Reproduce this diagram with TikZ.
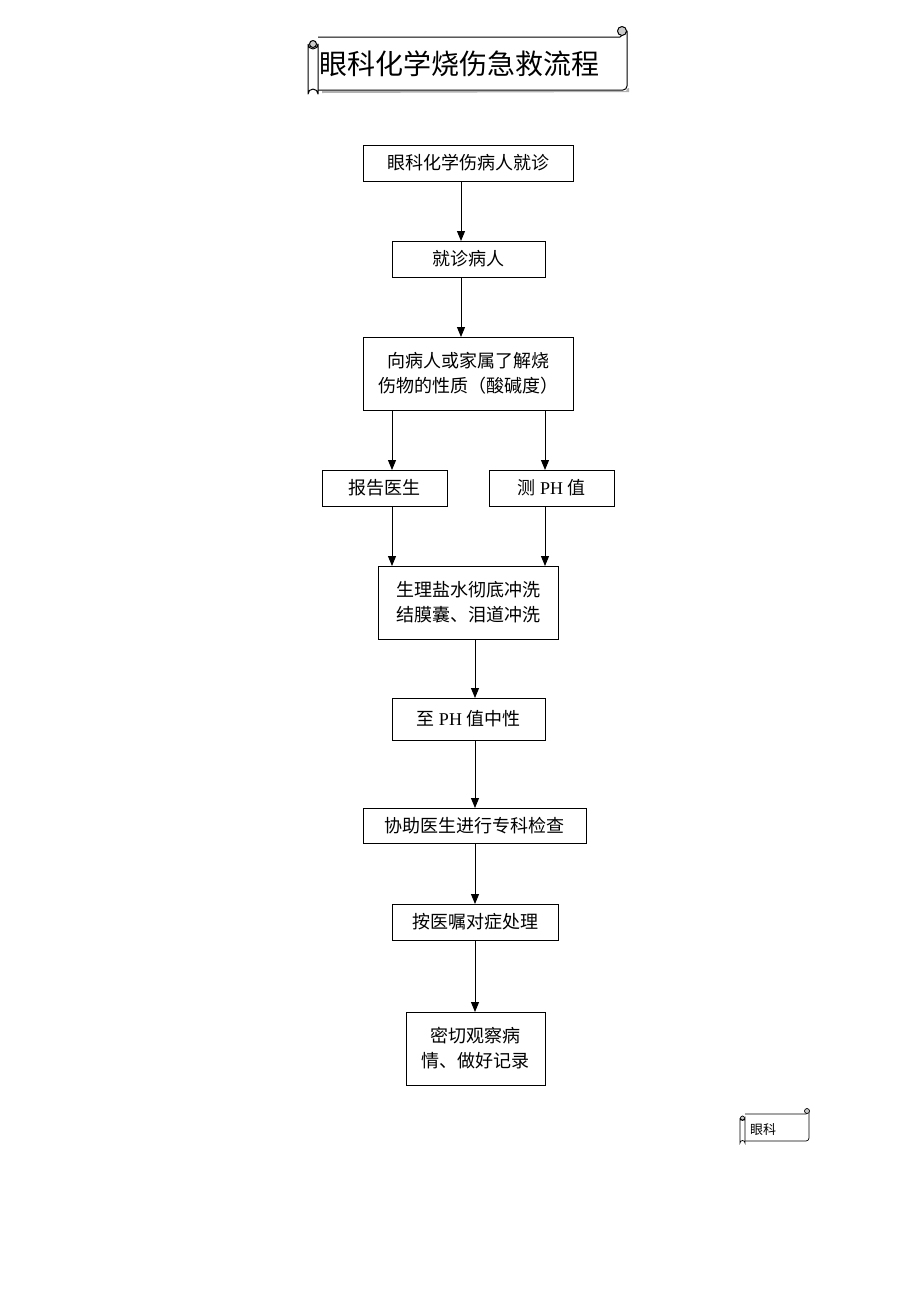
\documentclass[tikz,border=0pt]{standalone}
\usepackage{fontspec}
\setmainfont{Liberation Serif}
\newfontfamily\cjk{Noto Sans CJK SC}
\usetikzlibrary{arrows.meta}
\begin{document}
\begin{tikzpicture}[x=1pt,y=-1pt,inner sep=0pt,outer sep=0pt,
flowbox/.style={draw,rectangle,line width=1pt,align=center,font=\fontsize{18}{25}\selectfont\cjk},
flowarrow/.style={line width=1pt,-{Triangle[length=10pt,width=8pt]}},
rollline/.style={line width=1pt,line join=round}]
\useasboundingbox (0,0) rectangle (920,1302);
% title scroll
\fill[gray!60] (322,91) -- (626,91) -- (628,88) -- (629,88) -- (629,92) -- (322,93) -- cycle;
\draw[rollline,fill=white] (318,37) -- (620,37) -- (627,31) -- (627,86) arc (0:90:4) -- (318,90);
\draw[rollline,fill=gray!40] (622,31) circle (4.5);
\draw[rollline,fill=white] (308,44) -- (308,94) arc (180:360:5) -- (318,44) arc (0:180:5);
\draw[rollline,fill=gray!40] (313,44) circle (3.5);
\draw (459,64) node[font=\fontsize{28}{32}\selectfont\cjk] (title) {眼科化学烧伤急救流程};
% boxes
\draw (468,163) node[flowbox,minimum width=210pt,minimum height=36pt] (visit) {眼科化学伤病人就诊};
\draw (468.5,259) node[flowbox,minimum width=153pt,minimum height=36pt] (patient) {就诊病人};
\draw (468,373.5) node[flowbox,minimum width=210pt,minimum height=73pt] (ask) {向病人或家属了解烧\\伤物的性质（酸碱度）};
\draw (384.5,488) node[flowbox,minimum width=125pt,minimum height=36pt] (report) {报告医生};
\draw (551.5,488) node[flowbox,minimum width=125pt,minimum height=36pt] (ph) {测 {\rmfamily PH} 值};
\draw (468,602.5) node[flowbox,minimum width=180pt,minimum height=73pt] (rinse) {生理盐水彻底冲洗\\结膜囊、泪道冲洗};
\draw (468.5,719) node[flowbox,minimum width=153pt,minimum height=42pt] (neutral) {至 {\rmfamily PH} 值中性};
\draw (474.5,825.5) node[flowbox,minimum width=223pt,minimum height=35pt] (exam) {协助医生进行专科检查};
\draw (475,922) node[flowbox,minimum width=166pt,minimum height=36pt] (treat) {按医嘱对症处理};
\draw (475.5,1048.5) node[flowbox,minimum width=139pt,minimum height=73pt] (watch) {密切观察病\\情、做好记录};
% arrow columns
\coordinate (colA) at (461,0);
\coordinate (colL) at (392,0);
\coordinate (colR) at (545,0);
\coordinate (colB) at (475,0);
\draw[flowarrow] (visit.south -| colA) -- (patient.north -| colA);
\draw[flowarrow] (patient.south -| colA) -- (ask.north -| colA);
\draw[flowarrow] (ask.south -| colL) -- (report.north -| colL);
\draw[flowarrow] (ask.south -| colR) -- (ph.north -| colR);
\draw[flowarrow] (report.south -| colL) -- (rinse.north -| colL);
\draw[flowarrow] (ph.south -| colR) -- (rinse.north -| colR);
\draw[flowarrow] (rinse.south -| colB) -- (neutral.north -| colB);
\draw[flowarrow] (neutral.south -| colB) -- (exam.north -| colB);
\draw[flowarrow] (exam.south -| colB) -- (treat.north -| colB);
\draw[flowarrow] (treat.south -| colB) -- (watch.north -| colB);
% small scroll
\draw[line width=0.7pt,fill=white] (745,1114) -- (806,1114) -- (809,1111) -- (809,1138) arc (0:90:3) -- (745,1141);
\draw[line width=0.7pt,fill=gray!40] (807,1111) circle (2.5);
\draw[line width=0.7pt,fill=white] (740,1118) -- (740,1143) arc (180:360:2.5) -- (745,1118) arc (0:180:2.5);
\draw[line width=0.7pt,fill=gray!40] (742.5,1118) circle (2);
\draw (763,1130) node[font=\fontsize{13}{15}\selectfont\cjk] (dept) {眼科};
\end{tikzpicture}
\end{document}
